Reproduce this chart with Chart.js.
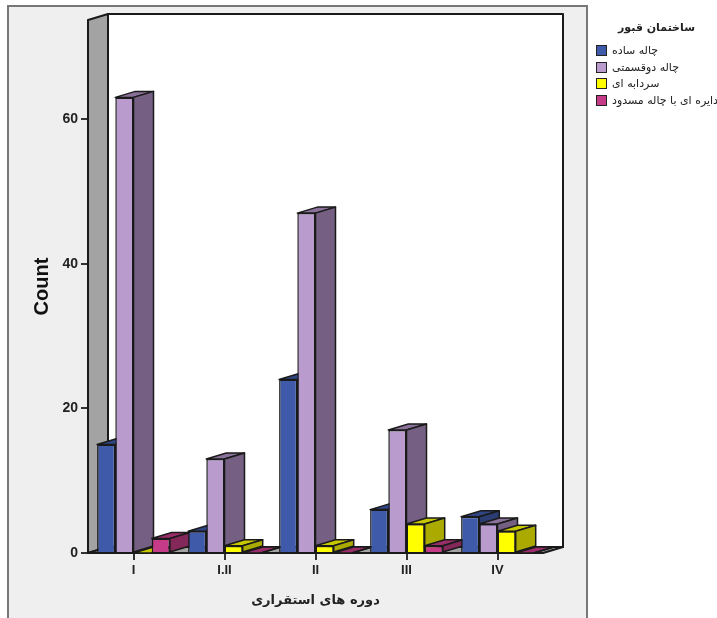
<!DOCTYPE html>
<html>
<head>
<meta charset="utf-8">
<style>
    body { margin: 0; background: #fff; }
    #panel { position: absolute; left: 7px; top: 5px; width: 577px; height: 611px; background: #efefef; border: 2px solid #777; border-bottom-color: #ddd; }
    canvas { position: absolute; left: 0; top: 0; }
    #legend { position: absolute; left: 596px; top: 0; width: 121px; font-family: "DejaVu Sans"; color: #222; }
    #legend h4 { position: absolute; left: 22px; top: 20px; width: 77px; margin: 0; font-size: 11px; line-height: 16px; text-align: center; direction: rtl; white-space: nowrap; }
    #legend .row { position: absolute; left: 0; height: 13px; white-space: nowrap; }
    #legend .swatch { position: absolute; left: 0; top: 0; width: 9px; height: 9px; border: 1.5px solid #222; }
    #legend .name { position: absolute; left: 16px; top: -1px; font-size: 11px; line-height: 14px; direction: rtl; }
</style>
</head>
<body>
<div id="panel"></div>
<canvas id="chart" width="717" height="618"></canvas>
<div id="legend"></div>
<script src="https://cdn.jsdelivr.net/npm/chart.js@4/dist/chart.umd.min.js"></script>
<script>
const periods = ['I', 'I.II', 'II', 'III', 'IV'];
const seriesNames = ['چاله ساده', 'چاله دوقسمتی', 'سردابه ای', 'دایره ای با چاله مسدود'];
const simplePit = [15, 3, 24, 6, 5];
const twoPartPit = [63, 13, 47, 17, 4];
const vault = [0, 1, 1, 4, 3];
const roundPit = [2, 0, 0, 1, 0];
const countTicks = [0, 20, 40, 60];

const frontColors = ['#3f5aa9', '#b99ccd', '#ffff00', '#c63b87'];
const sideColors = ['#2a3c71', '#756083', '#aaaa00', '#84285a'];
const topColors = ['#2f4583', '#8a7199', '#c8c800', '#9a2e69'];

const legendTitle = 'ساختمان قبور';
const xTitle = 'دوره های استقراری';
const yTitle = 'Count';

// depth of the fake 3D box
const depthX = 20;
const depthY = -6;
const lineColor = '#1a1a1a';

function face(ctx, points, fill) {
    ctx.beginPath();
    points.forEach((p, i) => i ? ctx.lineTo(p[0], p[1]) : ctx.moveTo(p[0], p[1]));
    ctx.closePath();
    ctx.fillStyle = fill;
    ctx.fill();
    ctx.stroke();
}

const box3d = {
    id: 'box3d',
    beforeDatasetsDraw(chart) {
        const ctx = chart.ctx;
        const a = chart.chartArea;
        ctx.save();
        ctx.strokeStyle = lineColor;
        ctx.lineWidth = 2;
        ctx.lineJoin = 'round';
        // back wall, left wall, floor
        face(ctx, [[a.left + depthX, a.top + depthY], [a.right + depthX, a.top + depthY], [a.right + depthX, a.bottom + depthY], [a.left + depthX, a.bottom + depthY]], '#fff');
        face(ctx, [[a.left, a.top], [a.left + depthX, a.top + depthY], [a.left + depthX, a.bottom + depthY], [a.left, a.bottom]], '#a3a3a3');
        face(ctx, [[a.left, a.bottom], [a.left + depthX, a.bottom + depthY], [a.right + depthX, a.bottom + depthY], [a.right, a.bottom]], '#a3a3a3');

        // left to right so that every bar covers the side of the one before it
        ctx.lineWidth = 1.5;
        periods.forEach((_, j) => {
            chart.data.datasets.forEach((ds, i) => {
                const bar = chart.getDatasetMeta(i).data[j];
                const p = bar.getProps(['x', 'y', 'base', 'width']);
                const l = p.x - p.width / 2;
                const r = p.x + p.width / 2;
                face(ctx, [[l, p.y], [l + depthX, p.y + depthY], [r + depthX, p.y + depthY], [r, p.y]], topColors[i]);
                face(ctx, [[r, p.y], [r + depthX, p.y + depthY], [r + depthX, p.base + depthY], [r, p.base]], sideColors[i]);
                if (ds.data[j] > 0) bar.draw(ctx);
            });
        });
        ctx.restore();
        return false;
    }
};

new Chart(document.getElementById('chart'), {
    type: 'bar',
    data: {
        labels: periods,
        datasets: [simplePit, twoPartPit, vault, roundPit].map((values, i) => ({
            label: seriesNames[i],
            data: values,
            backgroundColor: frontColors[i],
            borderColor: lineColor,
            borderWidth: 1.5,
            barPercentage: 1,
            categoryPercentage: 0.8
        }))
    },
    options: {
        responsive: false,
        animation: false,
        layout: { padding: { top: 20, right: 174 } },
        plugins: { legend: { display: false }, tooltip: { enabled: false } },
        scales: {
            x: {
                afterFit: s => { s.height = 65; },
                grid: { offset: false, drawOnChartArea: false, color: '#333', lineWidth: 2, tickLength: 7 },
                border: { display: false },
                ticks: { color: '#222', padding: 3, maxRotation: 0, font: { family: 'Liberation Sans', size: 13, weight: 'bold' } },
                title: { display: true, text: xTitle, color: '#222', padding: { top: 0, bottom: 10 }, font: { family: 'DejaVu Sans', size: 13, weight: 'bold' } }
            },
            y: {
                min: 0,
                max: 73.7,
                afterFit: s => { s.width = 88; },
                afterBuildTicks: s => { s.ticks = countTicks.map(value => ({ value })); },
                grid: { drawOnChartArea: false, color: '#333', lineWidth: 2, tickLength: 7 },
                border: { display: false },
                ticks: { color: '#222', padding: 3, font: { family: 'Liberation Sans', size: 14, weight: 'bold' } },
                title: { display: true, text: yTitle, color: '#111', padding: { top: 30, bottom: 0 }, font: { family: 'Liberation Sans', size: 20, weight: 'bold' } }
            }
        }
    },
    plugins: [box3d]
});

document.getElementById('legend').innerHTML = `<h4>${legendTitle}</h4>` + seriesNames.map((name, i) => `
    <div class="row" style="top: ${45 + i * 16.5}px">
        <span class="swatch" style="background: ${frontColors[i]}"></span>
        <span class="name">${name}</span>
    </div>
`).join('');
</script>
</body>
</html>
